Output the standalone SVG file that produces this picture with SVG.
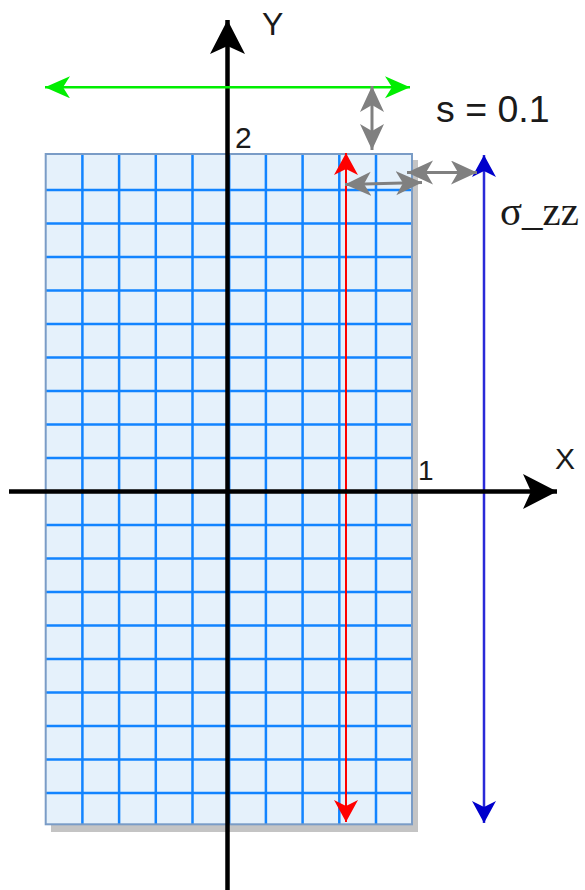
<svg xmlns="http://www.w3.org/2000/svg" width="585" height="890" viewBox="0 0 585 890">
<style>
.lbl{font-family:"Liberation Sans",Arial,sans-serif;fill:#1a1a1a}
.ser{font-family:"Liberation Serif","Times New Roman",serif;fill:#1a1a1a}
.gl{stroke:#1284ff;stroke-width:2.5;fill:none}
</style>
<defs>
<marker id="mBlack" markerUnits="userSpaceOnUse" markerWidth="36" markerHeight="36" refX="34" refY="17.5" orient="auto"><path d="M0,0 L34,17.5 L0,35 L8,17.5 z" fill="#000"/></marker>
<marker id="mGreen" markerUnits="userSpaceOnUse" markerWidth="27" markerHeight="24" refX="25" refY="11" orient="auto-start-reverse"><path d="M0,0 L25,11 L0,22 L7,11 z" fill="#00ee00"/></marker>
<marker id="mGrey" markerUnits="userSpaceOnUse" markerWidth="28" markerHeight="26" refX="26" refY="12" orient="auto-start-reverse"><path d="M0,0 L26,12 L0,24 L7,12 z" fill="#808080"/></marker>
<marker id="mRed" markerUnits="userSpaceOnUse" markerWidth="24" markerHeight="26" refX="22" refY="12" orient="auto-start-reverse"><path d="M0,0 L22,12 L0,24 L6,12 z" fill="#ff0000"/></marker>
<marker id="mBlue" markerUnits="userSpaceOnUse" markerWidth="24" markerHeight="26" refX="22" refY="12" orient="auto-start-reverse"><path d="M0,0 L22,12 L0,24 L6,12 z" fill="#0000cc"/></marker>
</defs>
<g id="grid">
<rect x="51" y="160" width="367" height="672" fill="#c4c4c4"/>
<rect x="45.7" y="154" width="366.3" height="670.3" fill="#e5f1fb"/>
<path class="gl" d="M82.4,154V824.3M119.1,154V824.3M155.8,154V824.3M192.5,154V824.3M229.2,154V824.3M265.9,154V824.3M302.6,154V824.3M339.3,154V824.3M376,154V824.3"/>
<path class="gl" d="M45.7,190H412M45.7,223.5H412M45.7,257H412M45.7,290.5H412M45.7,324H412M45.7,357.5H412M45.7,391H412M45.7,424.5H412M45.7,458H412M45.7,491.5H412M45.7,525H412M45.7,558.5H412M45.7,592H412M45.7,625.5H412M45.7,659H412M45.7,692.5H412M45.7,726H412M45.7,759.5H412M45.7,793H412"/>
<rect x="45.7" y="154" width="366.3" height="670.3" fill="none" stroke="#7a9cc6" stroke-width="2"/>
</g>
<g id="connectors">
<line x1="346" y1="153" x2="346" y2="822" stroke="#ff0000" stroke-width="2" marker-start="url(#mRed)" marker-end="url(#mRed)"/>
<line x1="484" y1="155" x2="484" y2="823" stroke="#2a2ad8" stroke-width="2.5" marker-start="url(#mBlue)" marker-end="url(#mBlue)"/>
<line x1="227.5" y1="890" x2="227.5" y2="20" stroke="#000" stroke-width="4.5" marker-end="url(#mBlack)"/>
<line x1="9" y1="491.5" x2="557" y2="491.5" stroke="#000" stroke-width="4.5" marker-end="url(#mBlack)"/>
<line x1="45" y1="87.3" x2="410" y2="87.3" stroke="#00ee00" stroke-width="2.5" marker-start="url(#mGreen)" marker-end="url(#mGreen)"/>
<line x1="372" y1="86" x2="372" y2="150" stroke="#808080" stroke-width="3" marker-start="url(#mGrey)" marker-end="url(#mGrey)"/>
<line x1="407" y1="172.5" x2="477" y2="172.5" stroke="#808080" stroke-width="3" marker-start="url(#mGrey)" marker-end="url(#mGrey)"/>
<line x1="345" y1="184.5" x2="422" y2="182.5" stroke="#808080" stroke-width="3" marker-start="url(#mGrey)" marker-end="url(#mGrey)"/>
</g>
<g id="labels">
<text class="lbl" x="262" y="35" font-size="32">Y</text>
<text class="lbl" x="235" y="148" font-size="30">2</text>
<text class="lbl" x="418" y="480" font-size="28">1</text>
<text class="lbl" x="555" y="469" font-size="30">X</text>
<text class="lbl" x="436" y="122" font-size="37.5">s = 0.1</text>
<text class="ser" x="500" y="225" font-size="41">σ_zz</text>
</g>
</svg>
